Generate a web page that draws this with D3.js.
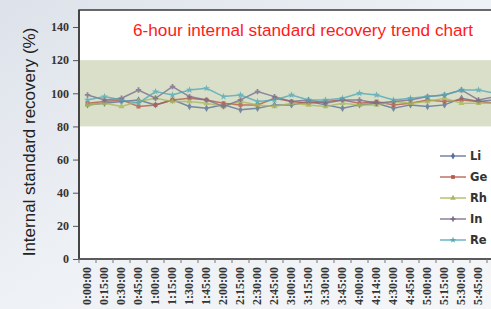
<!DOCTYPE html>
<html>
<head>
<meta charset="utf-8">
<script src="https://cdn.jsdelivr.net/npm/d3@7/dist/d3.min.js"></script>
<style>
  html, body { margin: 0; padding: 0; }
  body { width: 491px; height: 309px; overflow: hidden; }
</style>
</head>
<body>
<div id="chart"></div>
<script>
var times = ["0:00:00", "0:15:00", "0:30:00", "0:45:00", "1:00:00", "1:15:00", "1:30:00", "1:45:00",
  "2:00:00", "2:15:00", "2:30:00", "2:45:00", "3:00:00", "3:15:00", "3:30:00", "3:45:00",
  "4:00:00", "4:14:00", "4:30:00", "4:45:00", "5:00:00", "5:15:00", "5:30:00", "5:45:00", "6:00:00"];

var li = [93, 94, 95, 96, 93, 96, 92, 91, 93, 90, 91, 93, 93, 95, 93, 91, 93, 94, 91, 93, 92, 93, 97, 95, 96];
var ge = [94, 95, 96, 92, 93, 96, 97, 96, 94, 93, 93, 97, 95, 94, 95, 96, 94, 95, 93, 94, 96, 95, 96, 95, 94];
var rh = [93, 94, 92, 95, 97, 95, 95, 94, 92, 95, 93, 92, 94, 93, 92, 94, 93, 93, 95, 94, 95, 97, 94, 94, 94];
var indium = [99, 96, 97, 102, 97, 104, 98, 96, 92, 96, 101, 98, 95, 96, 94, 96, 96, 94, 95, 96, 98, 99, 102, 96, 98];
var re = [96, 98, 96, 94, 101, 99, 102, 103, 98, 99, 95, 96, 99, 96, 96, 97, 100, 99, 96, 97, 98, 99, 102, 102, 100];

var yTicks = [0, 20, 40, 60, 80, 100, 120, 140];
var band = [80, 120];

var series = [
  { name: "Li", values: li, color: "#5a7099", symbol: d3.symbolDiamond },
  { name: "Ge", values: ge, color: "#b4584a", symbol: d3.symbolSquare },
  { name: "Rh", values: rh, color: "#a9b85c", symbol: d3.symbolTriangle },
  { name: "In", values: indium, color: "#7a6a8c", symbol: d3.symbolCross },
  { name: "Re", values: re, color: "#4fa9b8", symbol: d3.symbolStar }
];

var W = 491, H = 309;
var svg = d3.select("#chart").append("svg")
  .attr("width", W)
  .attr("height", H);

var defs = svg.append("defs");
var grad = defs.append("linearGradient")
  .attr("id", "bg")
  .attr("x1", 0).attr("y1", 0).attr("x2", 1).attr("y2", 1);
grad.append("stop").attr("offset", "0%").attr("stop-color", "#dde2ea");
grad.append("stop").attr("offset", "50%").attr("stop-color", "#eef1f5");
grad.append("stop").attr("offset", "100%").attr("stop-color", "#f4f6f8");

svg.append("rect")
  .attr("width", W)
  .attr("height", H)
  .attr("fill", "url(#bg)");

var plotLeft = 79, plotTop = 10, plotBottom = 259;

var x = d3.scaleBand()
  .domain(times)
  .range([plotLeft, plotLeft + times.length * 17]);

var y = d3.scaleLinear()
  .domain([0, 140])
  .range([plotBottom, 27]);

// plot area box
svg.append("rect")
  .attr("x", plotLeft)
  .attr("y", plotTop)
  .attr("width", W - plotLeft + 20)
  .attr("height", plotBottom - plotTop)
  .attr("fill", "#ffffff")
  .attr("stroke", "#3a3a3a")
  .attr("stroke-width", 1.5);

// acceptance band 80-120
svg.append("rect")
  .attr("x", plotLeft + 1)
  .attr("y", y(band[1]))
  .attr("width", W - plotLeft)
  .attr("height", y(band[0]) - y(band[1]))
  .attr("fill", "#d9dfc9");

svg.append("text")
  .attr("x", 133)
  .attr("y", 36)
  .attr("fill", "#ff1a1a")
  .style("font-family", "Liberation Sans, Arial, sans-serif")
  .style("font-size", "17.2px")
  .text("6-hour internal standard recovery trend chart");

var line = d3.line()
  .x(function(d, i) { return x(times[i]) + x.bandwidth() / 2; })
  .y(function(d) { return y(d); });

var g = svg.selectAll("g.series")
  .data(series)
  .enter().append("g")
  .attr("class", "series")
  .attr("opacity", 0.78);

g.append("path")
  .attr("d", function(d) { return line(d.values); })
  .attr("fill", "none")
  .attr("stroke", function(d) { return d.color; })
  .attr("stroke-width", 1.5);

g.each(function(s) {
  d3.select(this).selectAll("path.mark")
    .data(s.values)
    .enter().append("path")
    .attr("class", "mark")
    .attr("d", d3.symbol().type(s.symbol).size(16))
    .attr("transform", function(d, i) {
      return "translate(" + (x(times[i]) + x.bandwidth() / 2) + "," + y(d) + ")";
    })
    .attr("fill", s.color);
});

// y axis
var yAxis = svg.append("g")
  .attr("transform", "translate(" + plotLeft + ",0)")
  .call(d3.axisLeft(y).tickValues(yTicks).tickSize(6).tickPadding(4));
yAxis.select(".domain").remove();
yAxis.selectAll("line").attr("stroke", "#555");
yAxis.selectAll("text")
  .attr("fill", "#333")
  .style("font-family", "Liberation Serif, Times New Roman, serif")
  .style("font-weight", "bold")
  .style("font-size", "12px");

svg.append("line")
  .attr("x1", plotLeft).attr("x2", plotLeft)
  .attr("y1", plotTop).attr("y2", plotBottom)
  .attr("stroke", "#3a3a3a")
  .attr("stroke-width", 1.5);

// x axis
var xAxis = svg.append("g")
  .attr("transform", "translate(0," + plotBottom + ")");
xAxis.append("line")
  .attr("x1", plotLeft).attr("x2", W)
  .attr("stroke", "#555")
  .attr("stroke-width", 1.5);
xAxis.selectAll("line.tick")
  .data(times)
  .enter().append("line")
  .attr("class", "tick")
  .attr("x1", function(d) { return x(d); })
  .attr("x2", function(d) { return x(d); })
  .attr("y1", 0).attr("y2", 4)
  .attr("stroke", "#777");
// only the labels that fit inside the window
xAxis.selectAll("text")
  .data(times.filter(function(d) { return x(d) + x.bandwidth() / 2 < W - 6; }))
  .enter().append("text")
  .attr("transform", function(d) {
    return "translate(" + (x(d) + x.bandwidth() / 2 + 3) + ",8) rotate(-90)";
  })
  .attr("text-anchor", "end")
  .attr("fill", "#333")
  .style("font-family", "Liberation Serif, Times New Roman, serif")
  .style("font-weight", "bold")
  .style("font-size", "12px")
  .text(function(d) { return d; });

svg.append("text")
  .attr("transform", "translate(35,142) rotate(-90)")
  .attr("text-anchor", "middle")
  .attr("fill", "#222")
  .style("font-family", "Liberation Sans, Arial, sans-serif")
  .style("font-size", "17px")
  .text("Internal standard recovery (%)");

// legend
var legend = svg.selectAll("g.legend")
  .data(series)
  .enter().append("g")
  .attr("class", "legend")
  .attr("transform", function(d, i) {
    return "translate(440," + (156 + i * 21) + ")";
  });
legend.append("line")
  .attr("x1", 0).attr("x2", 26)
  .attr("stroke", function(d) { return d.color; })
  .attr("stroke-width", 1.5)
  .attr("opacity", 0.85);
legend.append("path")
  .attr("d", function(d) { return d3.symbol().type(d.symbol).size(14)(); })
  .attr("transform", "translate(13,0)")
  .attr("fill", function(d) { return d.color; });
legend.append("text")
  .attr("x", 30)
  .attr("y", 4)
  .attr("fill", "#333")
  .style("font-family", "DejaVu Sans, sans-serif")
  .style("font-weight", "bold")
  .style("font-size", "11.5px")
  .text(function(d) { return d.name; });
</script>
</body>
</html>
